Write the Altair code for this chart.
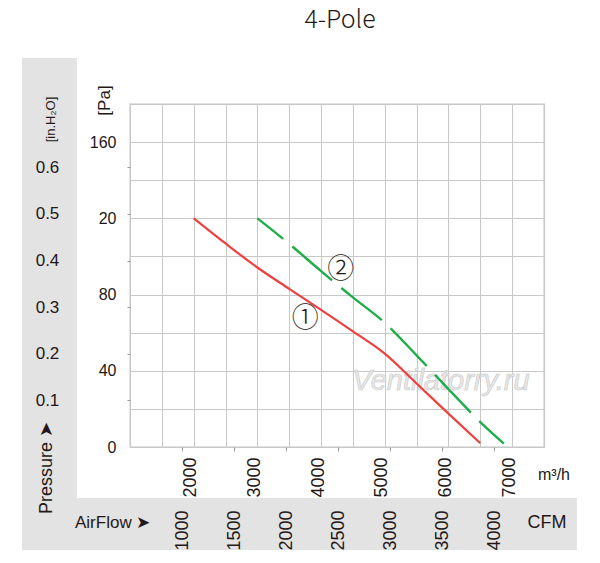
import altair as alt
import pandas as pd

# curve 1 (red, solid) and curve 2 (green, dashed): m3/h vs Pa
flow_1 = [2000, 2500, 3000, 3500, 4000, 4500, 5000, 5500, 6000, 6500]
pres_1 = [120, 106.8, 94.2, 83.0, 72.0, 60.7, 49.0, 33.3, 17.5, 2]
flow_2 = [3000, 3500, 4000, 4500, 5000, 5500, 6000, 6500, 6870]
pres_2 = [120, 106.6, 92.3, 78.5, 65.2, 48.1, 30.4, 13.1, 1.8]

# circled curve numbers
tag_text = ["①", "②"]
tag_flow = [3750, 4310]
tag_pres = [67, 93]

# axis values
pa_grid = list(range(0, 181, 20))
flow_grid = list(range(1000, 7501, 500))
inh2o_ticks = [0.1, 0.2, 0.3, 0.4, 0.5, 0.6]
cfm_ticks = [1000, 1500, 2000, 2500, 3000, 3500, 4000]

W, H = 414, 343
INK = "#231815"
NARROW = "Liberation Sans Narrow, Liberation Sans, Arial"
SANS = "Liberation Sans, Arial"
CJK = "Noto Sans CJK SC"
GRAY_BAND = "#e3e3e3"

one = pd.DataFrame({"k": [0]})

FLOW_DOMAIN = [1000, 7500]
PA_DOMAIN = [0, 180]

x_flow = alt.X(
    "flow:Q", scale=alt.Scale(domain=FLOW_DOMAIN, nice=False, zero=False),
    axis=alt.Axis(
        orient="bottom", values=flow_grid, grid=True, gridColor="#c8c8c8",
        domain=False, ticks=False, tickSize=0, labelAngle=-90, labelPadding=10,
        labelOffset=-3,
        labelExpr="datum.value % 1000 == 0 && datum.value >= 2000 ? datum.label : ''",
        labelFont=NARROW, labelFontSize=18, labelColor=INK, format="d", title=None,
    ),
)
y_pa = alt.Y(
    "pa:Q", scale=alt.Scale(domain=PA_DOMAIN, nice=False),
    axis=alt.Axis(
        orient="left", values=pa_grid, grid=True, gridColor="#c8c8c8", domain=False,
        ticks=False, tickSize=0, labelPadding=14, labelBaseline="middle",
        labelExpr="datum.value % 40 == 0 && datum.value <= 160 ? (datum.value == 120 ? '20' : datum.label) : ''",
        labelFont=SANS, labelFontSize=16, labelColor=INK,
        title="[Pa]", titleX=-26, titleY=-4, titleAngle=270, titleAlign="center",
        titleBaseline="middle", titleFont=NARROW, titleFontSize=17,
        titleFontWeight="normal", titleColor=INK,
    ),
)
x_plain = alt.X("flow:Q", scale=alt.Scale(domain=FLOW_DOMAIN, nice=False, zero=False), axis=None)
y_plain = alt.Y("pa:Q", scale=alt.Scale(domain=PA_DOMAIN, nice=False), axis=None)

band_v = alt.Chart(one).mark_rect(color=GRAY_BAND).encode(
    x=alt.value(-108), x2=alt.value(-53), y=alt.value(-46), y2=alt.value(446)
)
band_h = alt.Chart(one).mark_rect(color=GRAY_BAND).encode(
    x=alt.value(-108), x2=alt.value(447), y=alt.value(394), y2=alt.value(446)
)

# grid + main axes carried by an invisible layer over the whole domain
frame = alt.Chart(pd.DataFrame({"flow": FLOW_DOMAIN, "pa": PA_DOMAIN})).mark_point(
    opacity=0
).encode(x=x_flow, y=y_pa)

watermark = alt.Chart(one).mark_text(
    text="Ventilatorry.ru", font=SANS, fontSize=29, fontStyle="italic",
    fill="#e8e8e8", stroke="#c8c8c8", strokeWidth=0.6, align="center", baseline="middle",
).encode(x=alt.value(311), y=alt.value(277))

red = alt.Chart(pd.DataFrame({"flow": flow_1, "pa": pres_1})).mark_line(
    color="#ef4040", strokeWidth=2.2, interpolate="monotone"
).encode(x=x_plain, y=y_plain)

green = alt.Chart(pd.DataFrame({"flow": flow_2, "pa": pres_2})).mark_line(
    color="#20ad4b", strokeWidth=2.4, interpolate="monotone",
    strokeDash=[52, 12], strokeDashOffset=19,
).encode(x=x_plain, y=y_plain)

tags = alt.Chart(pd.DataFrame({"flow": tag_flow, "pa": tag_pres, "t": tag_text})).mark_text(
    font=CJK, fontSize=27, fontWeight=300, color=INK, align="center", baseline="middle"
).encode(x=x_plain, y=y_plain, text="t:N")

pressure = alt.Chart(one).mark_text(
    text="Pressure ➤", font=SANS, fontSize=18, color=INK, angle=270,
    align="center", baseline="middle",
).encode(x=alt.value(-83), y=alt.value(364))

airflow = alt.Chart(one).mark_text(
    text="AirFlow ➤", font=SANS, fontSize=17, color=INK, align="left", baseline="middle",
).encode(x=alt.value(-55), y=alt.value(419))

cfm_unit = alt.Chart(one).mark_text(
    text="CFM", font=NARROW, fontSize=18, color=INK, align="center", baseline="middle",
).encode(x=alt.value(417), y=alt.value(419))

m3h_unit = alt.Chart(one).mark_text(
    text="m³/h", font=NARROW, fontSize=16, color=INK, align="left", baseline="middle",
).encode(x=alt.value(408), y=alt.value(371))

cfm_layer = alt.Chart(pd.DataFrame({"cfm": cfm_ticks})).mark_point(opacity=0).encode(
    x=alt.X(
        "cfm:Q", scale=alt.Scale(domain=[500, 4480], nice=False, zero=False),
        axis=alt.Axis(
            orient="bottom", values=cfm_ticks, grid=False, domain=False,
            tickSize=4, tickColor="#9a9a9a", labelAngle=-90, labelPadding=59,
            labelFont=NARROW, labelFontSize=18, labelColor=INK, format="d",
            title=None, zindex=1,
        ),
    )
)

inh2o_layer = alt.Chart(pd.DataFrame({"inh2o": inh2o_ticks})).mark_point(opacity=0).encode(
    y=alt.Y(
        "inh2o:Q", scale=alt.Scale(domain=[0, 0.736], nice=False),
        axis=alt.Axis(
            orient="left", values=inh2o_ticks, grid=False, domain=False,
            tickSize=3, tickColor="#9a9a9a", labelPadding=80, labelAlign="center",
            labelBaseline="middle", labelFont=SANS, labelFontSize=17, labelColor=INK,
            format=".1f", zindex=1,
            title="[in.H₂O]", titleX=-80, titleY=15, titleAngle=270, titleAlign="center",
            titleBaseline="middle", titleFont=NARROW, titleFontSize=13,
            titleFontWeight="normal", titleColor=INK,
        ),
    )
)

chart = alt.layer(
    band_v, band_h, frame, watermark, red, green, tags,
    pressure, airflow, cfm_unit, m3h_unit, cfm_layer, inh2o_layer,
).resolve_scale(
    x="independent", y="independent"
).properties(
    width=W, height=H,
    autosize=alt.AutoSizeParams(type="none"),
    padding={"left": 122, "top": 96, "right": 48, "bottom": 108},
    title=alt.Title(
        "4-Pole", font=CJK, fontSize=25, fontWeight=300, color=INK,
        anchor="middle", frame="group", offset=25, dx=3,
    ),
).configure_view(stroke="#d8d8d8", strokeWidth=1.5)

chart.save("out.html", embed_options={"renderer": "svg", "actions": False})
